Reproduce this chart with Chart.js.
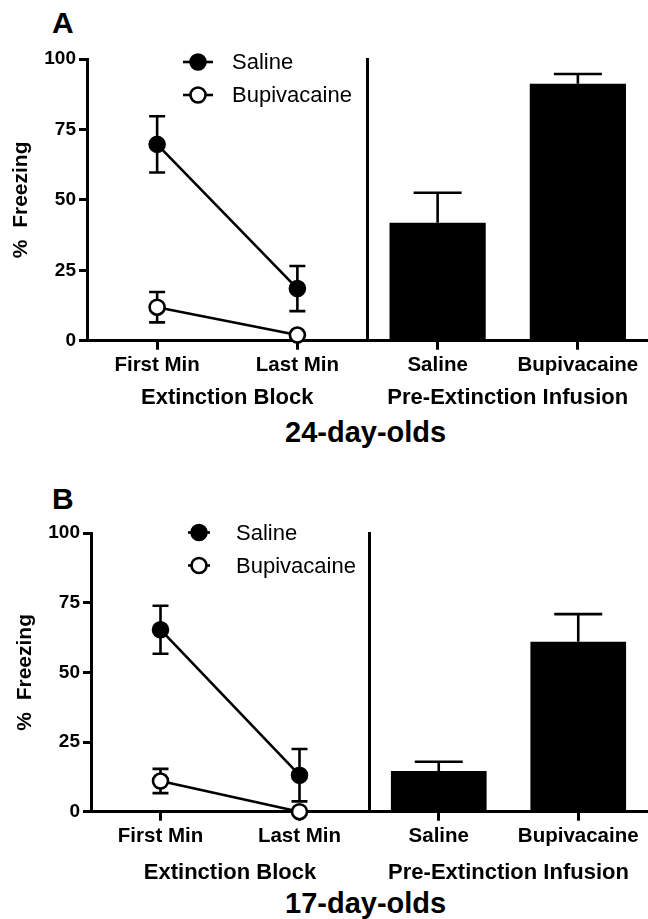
<!DOCTYPE html>
<html>
<head>
<meta charset="utf-8">
<script src="https://cdn.jsdelivr.net/npm/chart.js@4.4.1/dist/chart.umd.min.js"></script>
<style>
html,body{margin:0;padding:0;background:#fff;overflow:hidden;width:648px;height:919px;position:relative;}
canvas{position:absolute;}
.lbl{position:absolute;font-family:'Liberation Sans',Arial,sans-serif;font-weight:bold;line-height:1;color:#000;white-space:nowrap;}
</style>
</head>
<body>
<div class="lbl" style="left:52px;top:8px;font-size:30px">A</div>
<div class="lbl" style="left:285px;top:418px;font-size:29px">24-day-olds</div>
<div class="lbl" style="left:52px;top:484px;font-size:30px">B</div>
<div class="lbl" style="left:285px;top:889px;font-size:29px">17-day-olds</div>
<canvas id="aL" width="380" height="420" style="left:0;top:0"></canvas>
<canvas id="aR" width="288" height="420" style="left:360px;top:0"></canvas>
<canvas id="bL" width="381" height="420" style="left:0;top:470px"></canvas>
<canvas id="bR" width="286" height="420" style="left:362px;top:470px"></canvas>
<script>
// ---- data ----
const blockLabels = ['First Min', 'Last Min'];
const infusionLabels = ['Saline', 'Bupivacaine'];
const seriesNames = ['Saline', 'Bupivacaine'];
const yTicks = [0, 25, 50, 75, 100];
const yTitle = '%  Freezing';
const xTitleLeft = 'Extinction Block';
const xTitleRight = 'Pre-Extinction Infusion';

// Panel A: 24-day-olds
const aSalineLine = [69.7, 18.5];
const aSalineLineErr = [10, 8];
const aBupiLine = [11.9, 2.0];
const aBupiLineErr = [5.4, 0];
const aBars = [41.9, 91.2];
const aBarsErr = [10.6, 3.5];

// Panel B: 17-day-olds
const bSalineLine = [65.3, 13.1];
const bSalineLineErr = [8.6, 9.4];
const bBupiLine = [11.0, 0];
const bBupiLineErr = [4.35, 0];
const bBars = [14.6, 61.0];
const bBarsErr = [3.3, 9.9];

// ---- style ----
const FONT = "'Liberation Sans', Arial, sans-serif";
Chart.defaults.font.family = FONT;
Chart.defaults.color = '#000';

function drawErr(chart, kind) {
  const ctx = chart.ctx, ys = chart.scales.y;
  chart.data.datasets.forEach((ds, i) => {
    if (!ds.errors) return;
    const meta = chart.getDatasetMeta(i);
    if (meta.type !== kind) return;
    meta.data.forEach((el, j) => {
      const e = ds.errors[j];
      if (!e) return;
      const v = ds.data[j];
      const x = el.x;
      const yTop = ys.getPixelForValue(v + e);
      const yBot = kind === 'bar' ? ys.getPixelForValue(v) : ys.getPixelForValue(v - e);
      const cw = ds.capWidth;
      ctx.save();
      ctx.strokeStyle = '#000';
      ctx.lineWidth = 2.6;
      ctx.beginPath();
      ctx.moveTo(x, yTop); ctx.lineTo(x, yBot);
      ctx.moveTo(x - cw / 2, yTop); ctx.lineTo(x + cw / 2, yTop);
      if (kind === 'line') { ctx.moveTo(x - cw / 2, yBot); ctx.lineTo(x + cw / 2, yBot); }
      ctx.stroke();
      ctx.restore();
    });
  });
}
const errorBars = {
  id: 'errorBars',
  beforeDatasetsDraw(chart) { drawErr(chart, 'line'); },
  afterDatasetsDraw(chart) { drawErr(chart, 'bar'); }
};

const lineLegend = {
  id: 'lineLegend',
  afterDraw(chart, args, opts) {
    if (!opts || !opts.rows) return;
    const ctx = chart.ctx;
    chart.data.datasets.forEach((ds, i) => {
      const y = opts.rows[i];
      ctx.save();
      ctx.strokeStyle = '#000';
      ctx.lineWidth = 2.6;
      ctx.beginPath();
      ctx.moveTo(opts.x1, y); ctx.lineTo(opts.x2, y);
      ctx.stroke();
      ctx.beginPath();
      ctx.arc(opts.cx, y, 7.5, 0, Math.PI * 2);
      ctx.fillStyle = ds.pointBackgroundColor;
      ctx.fill();
      ctx.stroke();
      ctx.fillStyle = '#000';
      ctx.font = '22px ' + FONT;
      ctx.textBaseline = 'middle';
      ctx.textAlign = 'left';
      ctx.fillText(ds.label, opts.tx, y + 1);
      ctx.restore();
    });
  }
};

function xAxis(title, height, titlePadBottom) {
  return {
    type: 'category',
    offset: true,
    grid: { display: true, drawOnChartArea: false, drawTicks: true, tickLength: 9, lineWidth: 3, color: '#000', offset: false },
    border: { display: true, width: 3, color: '#000' },
    ticks: { font: { size: 20.5, weight: 'bold' }, padding: 3, color: '#000', maxRotation: 0, autoSkip: false },
    title: { display: true, text: title, font: { size: 22, weight: 'bold' }, padding: { top: 0, bottom: titlePadBottom }, color: '#000' },
    afterFit: s => { s.height = height; }
  };
}

function makeLeft(id, sal, salErr, bup, bupErr, geo) {
  new Chart(document.getElementById(id), {
    type: 'line',
    data: {
      labels: blockLabels,
      datasets: [
        { label: seriesNames[0], data: sal, errors: salErr, capWidth: 16, borderColor: '#000', borderWidth: 2.6,
          pointRadius: 7.5, pointBorderWidth: 2.6, pointBackgroundColor: '#000', pointBorderColor: '#000', tension: 0, clip: false },
        { label: seriesNames[1], data: bup, errors: bupErr, capWidth: 16, borderColor: '#000', borderWidth: 2.6,
          pointRadius: 7.5, pointBorderWidth: 2.6, pointBackgroundColor: '#fff', pointBorderColor: '#000', tension: 0, clip: false }
      ]
    },
    options: {
      responsive: false, animation: false, devicePixelRatio: 1,
      layout: { padding: { top: geo.top, left: 0, right: geo.right, bottom: 0 } },
      plugins: { legend: { display: false }, tooltip: { enabled: false }, lineLegend: geo.legend },
      scales: {
        x: xAxis(xTitleLeft, geo.xh, geo.tpb),
        y: {
          min: 0, max: 100,
          afterBuildTicks: s => { s.ticks = yTicks.map(v => ({ value: v })); },
          grid: { display: true, drawOnChartArea: false, drawTicks: true, tickLength: 8, lineWidth: 3, color: '#000' },
          border: { display: true, width: 3, color: '#000' },
          ticks: { font: { size: 19, weight: 'bold' }, padding: 3, color: '#000' },
          title: { display: true, text: yTitle, font: { size: 21, weight: 'bold' }, padding: { top: geo.ytp, bottom: 0 }, color: '#000' },
          afterFit: s => { s.width = geo.yw; }
        }
      }
    },
    plugins: [errorBars, lineLegend]
  });
}

function makeRight(id, bars, barsErr, geo) {
  new Chart(document.getElementById(id), {
    type: 'bar',
    data: {
      labels: infusionLabels,
      datasets: [{ label: 'infusion', data: bars, errors: barsErr, capWidth: 48, backgroundColor: '#000', borderWidth: 0,
        categoryPercentage: 1, barPercentage: 0.686 }]
    },
    options: {
      responsive: false, animation: false, devicePixelRatio: 1,
      layout: { padding: { top: geo.top, left: 0, right: 0, bottom: 0 } },
      plugins: { legend: { display: false }, tooltip: { enabled: false } },
      scales: {
        x: xAxis(xTitleRight, geo.xh, geo.tpb),
        y: {
          min: 0, max: 100,
          grid: { display: false },
          border: { display: true, width: 3, color: '#000' },
          ticks: { display: false },
          afterFit: s => { s.width = geo.yw; }
        }
      }
    },
    plugins: [errorBars]
  });
}

makeLeft('aL', aSalineLine, aSalineLineErr, aBupiLine, aBupiLineErr,
  { top: 59, right: 12.5, xh: 79.3, tpb: 9.3, yw: 87, ytp: 8.5,
    legend: { x1: 183, x2: 213, cx: 198, tx: 232, rows: [62, 95] } });
makeRight('aR', aBars, aBarsErr, { top: 59, xh: 79.3, tpb: 9.3, yw: 7.5 });

makeLeft('bL', bSalineLine, bSalineLineErr, bBupiLine, bBupiLineErr,
  { top: 63, right: 12, xh: 78.3, tpb: 4.3, yw: 91, ytp: 12.5,
    legend: { x1: 188, x2: 210, cx: 199, tx: 236, rows: [62.5, 95.5] } });
makeRight('bR', bBars, bBarsErr, { top: 63, xh: 78.3, tpb: 4.3, yw: 7 });
</script>
</body>
</html>
